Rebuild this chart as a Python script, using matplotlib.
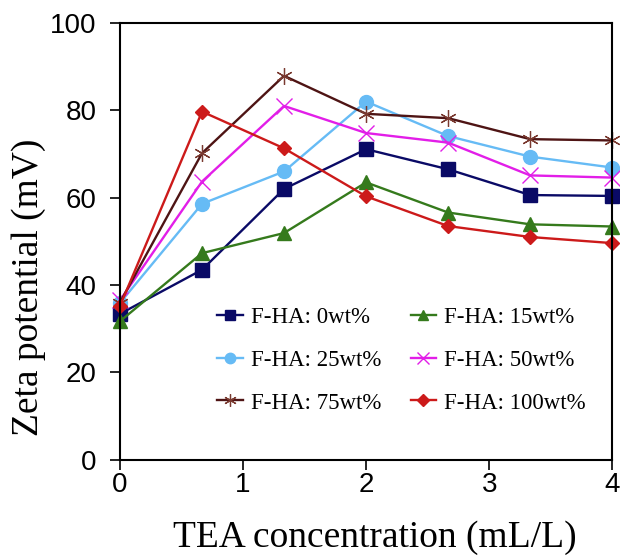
import matplotlib
matplotlib.use("Agg")
import matplotlib.pyplot as plt

# TEA concentration (mL/L)
tea = [0, 0.667, 1.333, 2, 2.667, 3.333, 4]

# Zeta potential (mV) for each F-HA content
fha_0 = [33.4, 43.5, 62.0, 71.1, 66.5, 60.6, 60.4]
fha_15 = [31.7, 47.3, 51.9, 63.5, 56.6, 53.9, 53.4]
fha_25 = [35.9, 58.6, 66.0, 82.0, 74.1, 69.4, 66.9]
fha_50 = [36.5, 63.7, 81.0, 74.8, 72.6, 65.1, 64.6]
fha_75 = [36.0, 70.2, 87.9, 79.2, 78.2, 73.4, 73.1]
fha_100 = [35.2, 79.7, 71.3, 60.3, 53.5, 51.0, 49.6]

labels = ["F-HA: 0wt%", "F-HA: 15wt%", "F-HA: 25wt%",
          "F-HA: 50wt%", "F-HA: 75wt%", "F-HA: 100wt%"]

fig = plt.figure(figsize=(6.2, 5.6), dpi=100)
ax = fig.add_axes([0.1935, 0.179, 0.794, 0.78])

lines = []
lines += ax.plot(tea, fha_0, color="#0a0a66", marker="s", ms=10, lw=1.7, clip_on=False)
lines += ax.plot(tea, fha_15, color="#357a1c", marker="^", ms=10, lw=1.7, clip_on=False)
lines += ax.plot(tea, fha_25, color="#66bbf5", marker="o", ms=10, lw=1.7, clip_on=False)
lines += ax.plot(tea, fha_50, color="#e21ee8", marker="x", ms=11, mew=1.0, lw=1.7, clip_on=False)
lines += ax.plot(tea, fha_75, color="#4e1414", marker=(6, 2, 0), ms=12, mew=0.9,
                 mec="#7a3a30", lw=1.7, clip_on=False)
lines += ax.plot(tea, fha_100, color="#cc1a1a", marker="D", ms=7.5, lw=1.7, clip_on=False)

ax.set_xlim(0, 4)
ax.set_ylim(0, 100)
ax.set_xticks([0, 1, 2, 3, 4])
ax.set_yticks([0, 20, 40, 60, 80, 100])
ax.tick_params(direction="out", length=7, width=1.2, labelsize=20,
               top=False, right=False)
ax.tick_params(axis="y", pad=10)
ax.tick_params(axis="x", pad=2)
for lab in ax.get_xticklabels() + ax.get_yticklabels():
    lab.set_family("Liberation Sans")
for sp in ax.spines.values():
    sp.set_linewidth(1.5)

ax.set_xlabel("TEA concentration (mL/L)", family="Liberation Serif", fontsize=27)
ax.set_ylabel("Zeta potential (mV)", family="Liberation Serif", fontsize=27)
ax.xaxis.set_label_coords(0.518, -0.138)
ax.yaxis.set_label_coords(-0.15, 0.395)

# row-wise order like the original legend
order = [0, 2, 4, 1, 3, 5]
ax.legend([lines[i] for i in order], [labels[i] for i in order],
          ncol=2, frameon=False, loc="center",
          bbox_to_anchor=(0.572, 0.228),
          prop={"family": "Liberation Serif", "size": 16.5},
          handlelength=1.1, handletextpad=0.35, columnspacing=1.3,
          labelspacing=0.95, markerscale=0.75)

fig.savefig("out.png", dpi=100)
